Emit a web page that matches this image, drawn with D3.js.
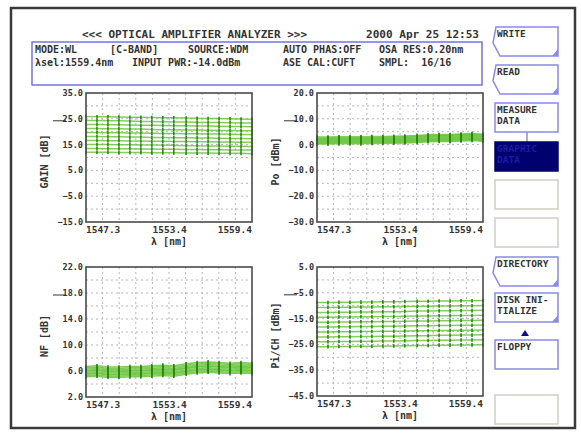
<!DOCTYPE html>
<html>
<head>
<meta charset="utf-8">
<script src="https://cdn.jsdelivr.net/npm/d3@7"></script>
<style>
  body { margin: 0; background: #fff; }
  text { font-family: "DejaVu Sans Mono", monospace; font-weight: bold; fill: #333; white-space: pre; }
</style>
</head>
<body>
<svg id="chart" width="581" height="434"></svg>
<script>
// channel wavelengths (nm), 16 channels
let channels = [1547.3,1548.1,1548.9,1549.7,1550.5,1551.3,1552.1,1552.9,1553.7,1554.6,1555.4,1556.2,1557.0,1557.8,1558.6,1559.4]
let xTickLabels = [1547.3, 1553.4, 1559.4]

// GAIN [dB], one row per input level
let gain = [
  [25.9,25.8,25.8,25.7,25.6,25.6,25.5,25.4,25.4,25.3,25.2,25.1,25.1,25.0,24.9,24.8],
  [24.3,24.3,24.2,24.2,24.1,24.0,24.0,23.9,23.8,23.8,23.7,23.6,23.6,23.5,23.4,23.4],
  [22.8,22.8,22.7,22.7,22.6,22.5,22.5,22.4,22.3,22.3,22.2,22.2,22.1,22.0,22.0,21.9],
  [21.2,21.2,21.1,21.1,21.0,21.0,20.9,20.8,20.8,20.7,20.7,20.6,20.5,20.5,20.4,20.4],
  [19.7,19.7,19.6,19.6,19.5,19.5,19.4,19.3,19.3,19.2,19.2,19.1,19.1,19.0,18.9,18.9],
  [18.1,18.1,18.0,18.0,17.9,17.9,17.8,17.8,17.7,17.7,17.6,17.6,17.5,17.4,17.4,17.3],
  [16.6,16.6,16.5,16.5,16.4,16.4,16.3,16.3,16.2,16.2,16.1,16.1,16.0,16.0,15.9,15.9],
  [15.0,15.0,15.0,14.9,14.9,14.8,14.8,14.7,14.7,14.6,14.6,14.5,14.5,14.4,14.4,14.3],
  [13.5,13.5,13.4,13.4,13.4,13.3,13.3,13.2,13.2,13.1,13.1,13.0,13.0,12.9,12.9,12.9],
  [12.0,12.0,12.0,11.9,11.9,11.9,11.8,11.8,11.8,11.7,11.7,11.7,11.6,11.6,11.6,11.5]
]

// Po [dBm]
let po = [
  [2.9,2.9,3.0,3.0,3.0,3.1,3.1,3.2,3.3,3.5,3.8,3.9,3.9,4.1,4.3,4.0],
  [2.6,2.6,2.7,2.7,2.7,2.8,2.8,2.9,3.0,3.2,3.5,3.6,3.6,3.8,4.0,3.7],
  [2.3,2.3,2.4,2.4,2.4,2.5,2.5,2.6,2.7,2.9,3.2,3.3,3.3,3.5,3.7,3.4],
  [2.0,2.0,2.1,2.1,2.1,2.2,2.2,2.3,2.4,2.6,2.9,3.0,3.0,3.2,3.4,3.1],
  [1.7,1.7,1.8,1.8,1.8,1.9,1.9,2.0,2.1,2.3,2.6,2.7,2.7,2.9,3.1,2.8],
  [1.4,1.4,1.5,1.5,1.5,1.6,1.6,1.7,1.8,2.0,2.3,2.4,2.4,2.6,2.8,2.5],
  [1.1,1.1,1.2,1.2,1.2,1.3,1.3,1.4,1.5,1.7,2.0,2.1,2.1,2.3,2.5,2.2],
  [0.8,0.8,0.9,0.9,0.9,1.0,1.0,1.1,1.2,1.4,1.7,1.8,1.8,2.0,2.2,1.9],
  [0.5,0.5,0.6,0.6,0.6,0.7,0.7,0.8,0.9,1.1,1.4,1.5,1.5,1.7,1.9,1.6],
  [0.2,0.2,0.3,0.3,0.3,0.4,0.4,0.5,0.6,0.8,1.1,1.2,1.2,1.4,1.6,1.3]
]

// NF [dB]
let nf = [
  [6.7,6.8,6.6,6.6,6.7,6.7,6.8,6.9,6.8,7.1,7.3,7.4,7.3,7.2,7.3,7.2],
  [6.5,6.6,6.4,6.4,6.5,6.5,6.6,6.7,6.6,6.9,7.1,7.2,7.1,7.0,7.1,7.0],
  [6.3,6.4,6.2,6.2,6.3,6.3,6.4,6.5,6.4,6.7,6.9,7.0,6.9,6.8,6.9,6.8],
  [6.1,6.2,6.0,6.0,6.1,6.1,6.2,6.3,6.2,6.5,6.7,6.8,6.7,6.6,6.7,6.6],
  [6.0,6.1,5.9,5.9,6.0,6.0,6.1,6.2,6.1,6.4,6.6,6.7,6.6,6.5,6.6,6.5],
  [5.8,5.9,5.7,5.7,5.8,5.8,5.9,6.0,5.9,6.2,6.4,6.5,6.4,6.3,6.4,6.3],
  [5.6,5.7,5.5,5.5,5.6,5.6,5.7,5.8,5.7,6.0,6.2,6.3,6.2,6.1,6.2,6.1],
  [5.5,5.6,5.4,5.4,5.5,5.5,5.6,5.7,5.6,5.9,6.1,6.2,6.1,6.0,6.1,6.0],
  [5.3,5.4,5.2,5.2,5.3,5.3,5.4,5.5,5.4,5.7,5.9,6.0,5.9,5.8,5.9,5.8],
  [5.1,5.2,5.0,5.0,5.1,5.1,5.2,5.3,5.2,5.5,5.7,5.8,5.7,5.6,5.7,5.6]
]

// Pi/CH [dBm]
let pi = [
  [-8.8,-8.8,-8.7,-8.7,-8.6,-8.6,-8.5,-8.5,-8.4,-8.3,-8.3,-8.2,-8.2,-8.1,-8.1,-8.0],
  [-10.7,-10.7,-10.6,-10.6,-10.5,-10.5,-10.4,-10.4,-10.3,-10.2,-10.2,-10.1,-10.1,-10.0,-10.0,-9.9],
  [-12.6,-12.6,-12.5,-12.5,-12.4,-12.4,-12.3,-12.3,-12.2,-12.1,-12.1,-12.0,-12.0,-11.9,-11.9,-11.8],
  [-14.5,-14.5,-14.4,-14.4,-14.3,-14.3,-14.2,-14.2,-14.1,-14.0,-14.0,-13.9,-13.9,-13.8,-13.8,-13.7],
  [-16.4,-16.4,-16.3,-16.3,-16.2,-16.2,-16.1,-16.1,-16.0,-15.9,-15.9,-15.8,-15.8,-15.7,-15.7,-15.6],
  [-18.3,-18.3,-18.2,-18.2,-18.1,-18.1,-18.0,-18.0,-17.9,-17.8,-17.8,-17.7,-17.7,-17.6,-17.6,-17.5],
  [-20.2,-20.2,-20.1,-20.1,-20.0,-20.0,-19.9,-19.9,-19.8,-19.7,-19.7,-19.6,-19.6,-19.5,-19.5,-19.4],
  [-22.1,-22.1,-22.0,-22.0,-21.9,-21.9,-21.8,-21.8,-21.7,-21.6,-21.6,-21.5,-21.5,-21.4,-21.4,-21.3],
  [-24.0,-24.0,-23.9,-23.9,-23.8,-23.8,-23.7,-23.7,-23.6,-23.5,-23.5,-23.4,-23.4,-23.3,-23.3,-23.2],
  [-25.9,-25.9,-25.8,-25.8,-25.7,-25.7,-25.6,-25.6,-25.5,-25.4,-25.4,-25.3,-25.3,-25.2,-25.2,-25.1]
]

let gainTicks = [-15, -5, 5, 15, 25, 35]
let poTicks = [-30, -20, -10, 0, 10, 20]
let nfTicks = [2, 6, 10, 14, 18, 22]
let piTicks = [-45, -35, -25, -15, -5, 5]

let headerLine1 = [["MODE:WL", 35], ["[C-BAND]", 110], ["SOURCE:WDM", 188], ["AUTO PHAS:OFF", 283], ["OSA RES:0.20nm", 379]]
let headerLine2 = [["λsel:1559.4nm", 35], ["INPUT PWR:-14.0dBm", 132], ["ASE CAL:CUFT", 283], ["SMPL:  16/16", 379]]

let svg = d3.select("#chart")
let fmt = d3.format(".1f")

// outer frame + header
svg.append("rect").attr("x", 11).attr("y", 8).attr("width", 564).attr("height", 420)
  .attr("fill", "none").attr("stroke", "#3a3a3a").attr("stroke-width", 2.5)

svg.append("text").attr("x", 82).attr("y", 38).style("font-size", "10.5px")
  .attr("textLength", 225).attr("lengthAdjust", "spacingAndGlyphs")
  .text("<<< OPTICAL AMPLIFIER ANALYZER >>>")
svg.append("text").attr("x", 366).attr("y", 38).style("font-size", "10.5px")
  .attr("textLength", 113).attr("lengthAdjust", "spacingAndGlyphs")
  .text("2000 Apr 25 12:53")

svg.append("rect").attr("x", 32).attr("y", 42).attr("width", 450).attr("height", 43)
  .attr("fill", "none").attr("stroke", "#7474e2").attr("stroke-width", 1.5)

svg.selectAll(".h1").data(headerLine1).enter().append("text")
  .attr("x", d => d[1]).attr("y", 53).style("font-size", "10px").text(d => d[0])
svg.selectAll(".h2").data(headerLine2).enter().append("text")
  .attr("x", d => d[1]).attr("y", 66).style("font-size", "10px").text(d => d[0])

function drawPanel(cfg) {
  let {left, top, w, h, ticks, data, title} = cfg
  let x = d3.scaleLinear().domain([channels[0], channels[channels.length - 1]]).range([left, left + w])
  let y = d3.scaleLinear().domain([ticks[0], ticks[ticks.length - 1]]).range([top + h, top])
  let g = svg.append("g")

  // 10 x 10 dotted grid
  let xg = d3.range(1, 10).map(i => x.invert(left + w * i / 10))
  let yg = d3.range(1, 10).map(i => y.invert(top + h * i / 10))
  g.selectAll(".vg").data(xg).enter().append("line")
    .attr("x1", d => x(d)).attr("x2", d => x(d)).attr("y1", top).attr("y2", top + h)
    .attr("stroke", "#b4b4c8").attr("stroke-width", 1).attr("stroke-dasharray", "2,3")
  g.selectAll(".hg").data(yg).enter().append("line")
    .attr("y1", d => y(d)).attr("y2", d => y(d)).attr("x1", left).attr("x2", left + w)
    .attr("stroke", "#b4b4c8").attr("stroke-width", 1).attr("stroke-dasharray", "2,3")

  // traces
  let line = d3.line().x((d, i) => x(channels[i])).y(d => y(d))
  g.selectAll(".trace").data(data).enter().append("path")
    .attr("d", line).attr("fill", "none")
    .attr("stroke", "#6cc440").attr("stroke-width", 1.5).attr("opacity", 0.85)
  let pts = []
  data.forEach(s => s.forEach((v, i) => pts.push([channels[i], v])))
  g.selectAll(".mk").data(pts).enter().append("line")
    .attr("x1", d => x(d[0])).attr("x2", d => x(d[0]))
    .attr("y1", d => y(d[1]) - 1.8).attr("y2", d => y(d[1]) + 1.8)
    .attr("stroke", "#2a8a10").attr("stroke-width", 1.6)

  // frame
  g.append("rect").attr("x", left).attr("y", top).attr("width", w).attr("height", h)
    .attr("fill", "none").attr("stroke", "#4a4a4a").attr("stroke-width", 1.6)

  // y tick labels
  g.selectAll(".yl").data(ticks).enter().append("text")
    .attr("x", left - 3).attr("y", d => y(d) + 3).attr("text-anchor", "end")
    .style("font-size", "8.5px").text(d => fmt(d))
  // reference mark next to second tick
  g.append("line").attr("x1", left - 33).attr("x2", left - 20)
    .attr("y1", y(ticks[4]) + 2).attr("y2", y(ticks[4]) + 2)
    .attr("stroke", "#333").attr("stroke-width", 1)

  // x tick labels
  let anchors = ["start", "middle", "end"]
  g.selectAll(".xl").data(xTickLabels).enter().append("text")
    .attr("x", d => x(d)).attr("y", top + h + 11)
    .attr("text-anchor", (d, i) => anchors[i])
    .style("font-size", "9.5px").text(d => fmt(d))
  g.append("text").attr("x", left + w / 2).attr("y", top + h + 23)
    .attr("text-anchor", "middle").style("font-size", "10px").text("λ [nm]")

  g.append("text")
    .attr("transform", "translate(" + (left - 38) + "," + (top + h / 2 + 4) + ") rotate(-90)")
    .attr("text-anchor", "middle").style("font-size", "10px").text(title)
}

drawPanel({left: 86, top: 93, w: 166, h: 129, ticks: gainTicks, data: gain, title: "GAIN [dB]"})
drawPanel({left: 317, top: 93, w: 166, h: 129, ticks: poTicks, data: po, title: "Po [dBm]"})
drawPanel({left: 86, top: 267, w: 166, h: 130, ticks: nfTicks, data: nf, title: "NF [dB]"})
drawPanel({left: 317, top: 267, w: 166, h: 129, ticks: piTicks, data: pi, title: "Pi/CH [dBm]"})

// soft keys on the right
let keys = [
  {y: 27, lines: ["WRITE"], kind: "notch"},
  {y: 65, lines: ["READ"], kind: "notch"},
  {y: 103, lines: ["MEASURE", "DATA"], kind: "plain"},
  {y: 142, lines: ["GRAPHIC", "DATA"], kind: "active"},
  {y: 180, lines: [], kind: "empty"},
  {y: 218, lines: [], kind: "empty"},
  {y: 257, lines: ["DIRECTORY"], kind: "notch"},
  {y: 293, lines: ["DISK INI-", "TIALIZE"], kind: "corner"},
  {y: 340, lines: ["FLOPPY"], kind: "plain"},
  {y: 395, lines: [], kind: "empty"}
]
let kx0 = 495, kx1 = 558, kh = 29

svg.append("line").attr("x1", 527).attr("x2", 527).attr("y1", 103 + kh).attr("y2", 142)
  .attr("stroke", "#8a8ae8").attr("stroke-width", 1.5)

let key = svg.selectAll(".key").data(keys).enter().append("g")
key.append("path")
  .attr("d", d => {
    let y0 = d.y, y1 = d.y + kh
    if (d.kind == "notch")
      return "M" + (kx0 + 1) + "," + y0 + "H" + kx1 + "V" + y1 + "H" + (kx0 + 5) +
        "L" + (kx0 - 2) + "," + (y0 + kh * 0.55) + "L" + (kx0 + 1) + "," + y0 + "Z"
    return "M" + kx0 + "," + y0 + "H" + kx1 + "V" + y1 + "H" + kx0 + "Z"
  })
  .attr("fill", d => d.kind == "active" ? "#00006e" : "#fff")
  .attr("stroke", d => d.kind == "empty" ? "#d2cec6" : d.kind == "active" ? "#00006e" : "#8a8ae8")
  .attr("stroke-width", 1.5)
key.filter(d => d.kind == "notch" || d.kind == "corner").append("path")
  .attr("d", d => "M" + kx1 + "," + (d.y + kh - 7) + "V" + (d.y + kh) + "H" + (kx1 - 6) + "Z")
  .attr("fill", "#8a8ae8")
key.each(function (d) {
  d3.select(this).selectAll("text").data(d.lines).enter().append("text")
    .attr("x", kx0 + 2).attr("y", (t, i) => d.y + 10 + i * 11)
    .style("font-size", "9.5px")
    .style("fill", d.kind == "active" ? "#1c1ca6" : "#333")
    .text(t => t)
})

svg.append("path").attr("d", "M521,336L529,336L525,330Z").attr("fill", "#0c0c8c")
</script>
</body>
</html>
